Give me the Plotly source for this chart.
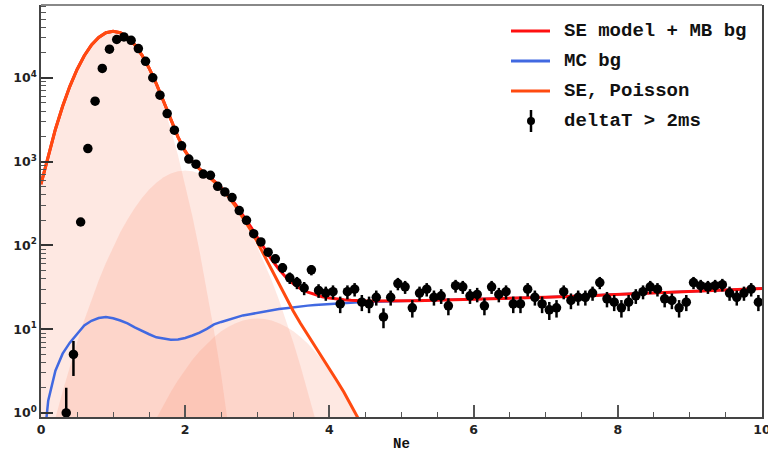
import numpy as np
import plotly.graph_objects as go

# ---------------- measured spectrum (deltaT > 2ms) ----------------
ne_bins = [round(0.35 + 0.1 * i, 2) for i in range(97)]
counts = [
    1, 5, 190, 1430, 5250, 12900, 21900, 28600, 30700, 28000,      # 0.35 - 1.25
    22300, 15700, 10000, 6200, 3740, 2370, 1540, 1070, 930, 710,   # 1.35 - 2.25
    686, 507, 434, 372, 260, 199, 138, 110, 83, 69,                # 2.35 - 3.25
    54, 41, 36, 31, 51, 29, 27, 28, 20, 28,                        # 3.35 - 4.25
    30, 21, 20, 24, 14, 24, 35, 32, 18, 27,                        # 4.35 - 5.25
    30, 24, 25, 19, 33, 32, 25, 26, 19, 32,                        # 5.35 - 6.25
    26, 28, 20, 20, 30, 24, 20, 17, 18, 28,                        # 6.35 - 7.25
    22, 24, 24, 27, 36, 23, 21, 18, 21, 25,                        # 7.35 - 8.25
    28, 32, 30, 23, 22, 18, 21, 36, 33, 32,                        # 8.35 - 9.25
    33, 34, 27, 24, 27, 30, 21,                                    # 9.35 - 9.95
]

# ---------------- model curves on a 0.1 grid ----------------
grid_x = [round(0.1 * i, 1) for i in range(101)]

# single-electron Poisson components (1e, 2e, 3e), starting at Ne = 0
se_1e = [536, 1190, 2430, 4570, 7890, 12530, 18280, 24530, 30270, 34360,
         35810, 34360, 30270, 24530, 18280, 12530, 7890, 4570, 2430, 1190,
         536, 222, 84.3, 29.5, 9.48, 2.81, 0.76, 0.19, 0.04]
se_2e = [0.18, 0.40, 0.87, 1.81, 3.61, 6.93, 12.8, 22.5, 38.0, 61.7,
         95.9, 143, 204, 280, 368, 463, 560, 649, 720, 767,
         783, 767, 720, 649, 560, 463, 368, 280, 204, 143,
         95.9, 61.7, 38.0, 22.5, 12.8, 6.93, 3.61, 1.81, 0.87, 0.40, 0.18]
se_3e = [0] * 13 + [0.23, 0.37, 0.57, 0.86, 1.26, 1.78, 2.46, 3.30, 4.31, 5.47,
                    6.75, 8.09, 9.44, 10.7, 11.8, 12.7, 13.2, 13.4, 13.2, 12.7,
                    11.8, 10.7, 9.44, 8.09, 6.75, 5.47, 4.31, 3.30, 2.46, 1.78,
                    1.26, 0.86, 0.57, 0.37, 0.23]

# MC background
mc_bg = [0.2, 1.4, 3.2, 5.1, 6.9, 8.8, 11.1, 12.6, 13.6, 14.0,
         13.5, 12.7, 11.7, 10.5, 9.5, 8.7, 8.0, 7.7, 7.5, 7.55,
         7.85, 8.4, 9.1, 10.1, 11.4, 12.2, 13.0, 13.8, 14.6, 15.1,
         15.7, 16.2, 16.8, 17.4, 17.8, 18.3, 18.7, 19.1, 19.4, 19.7,
         20.0, 20.3, 20.6, 20.8, 20.9, 21.1, 21.3, 21.4, 21.5, 21.6,
         21.7, 21.8, 21.9, 22.0, 22.0, 22.1, 22.2, 22.3, 22.4, 22.4,
         22.5, 22.6, 22.8, 22.9, 23.0, 23.2, 23.3, 23.5, 23.6, 23.8,
         24.0, 24.2, 24.3, 24.5, 24.7, 24.9, 25.1, 25.3, 25.5, 25.7,
         25.9, 26.1, 26.3, 26.5, 26.8, 27.0, 27.2, 27.5, 27.7, 28.0,
         28.2, 28.4, 28.7, 28.9, 29.2, 29.4, 29.6, 29.8, 30.0, 30.3, 30.5]

y_tick_vals = [1, 10, 100, 1000, 10000]
y_tick_text = ["10<sup>0</sup>", "10<sup>1</sup>", "10<sup>2</sup>",
               "10<sup>3</sup>", "10<sup>4</sup>"]
x_tick_vals = [0, 2, 4, 6, 8, 10]

legend_labels = ["SE model + MB bg", "MC bg", "SE, Poisson", "deltaT > 2ms"]

# ------------------------------------------------------------------
W, H = 768, 452
ML, MR, MT, MB = 41, 6, 5, 35


def px2x(px):
    return (px - ML) / (W - ML - MR)


def py2y(py):
    return (H - MB - py) / (H - MT - MB)


n = len(grid_x)
comps = [np.array(c + [0] * (n - len(c)), dtype=float) for c in (se_1e, se_2e, se_3e)]
x_arr = np.array(grid_x)
se_total = comps[0] + comps[1] + comps[2]
bg_arr = np.array(mc_bg)
se_plus_bg = se_total + bg_arr

RED, BLUE, ORANGE = "#ff1010", "#4169e1", "#ff4a10"
FILL = "rgba(248,140,108,0.2)"
fig = go.Figure()

for c in comps:
    m = c > 0
    fig.add_trace(go.Scatter(x=x_arr[m], y=c[m], mode="lines", line=dict(width=0),
                             fill="tozeroy", fillcolor=FILL, showlegend=False,
                             hoverinfo="skip"))

fig.add_trace(go.Scatter(x=x_arr, y=bg_arr, mode="lines", name=legend_labels[1],
                         line=dict(color=BLUE, width=2.5)))
fig.add_trace(go.Scatter(x=x_arr, y=se_plus_bg, mode="lines", name=legend_labels[0],
                         line=dict(color=RED, width=3)))
m = se_total > 0
fig.add_trace(go.Scatter(x=x_arr[m], y=se_total[m], mode="lines", name=legend_labels[2],
                         line=dict(color=ORANGE, width=3)))
fig.add_trace(go.Scatter(x=ne_bins, y=counts, mode="markers", name=legend_labels[3],
                         marker=dict(color="black", size=9.5),
                         error_y=dict(type="data", array=np.sqrt(counts), thickness=2.5,
                                      width=0, color="black")))

# legend box drawn by hand: line samples / marker glyph + labels
shapes = []
annotations = []
row_y = [31, 61, 91, 121]
for col, yy in zip([RED, BLUE, ORANGE], row_y[:3]):
    shapes.append(dict(type="line", xref="paper", yref="paper",
                       x0=px2x(511), x1=px2x(550), y0=py2y(yy), y1=py2y(yy),
                       line=dict(color=col, width=3)))
mx, my = 531, row_y[3]
shapes.append(dict(type="line", xref="paper", yref="paper",
                   x0=px2x(mx), x1=px2x(mx), y0=py2y(my - 11), y1=py2y(my + 11),
                   line=dict(color="black", width=2.5)))
shapes.append(dict(type="circle", xref="paper", yref="paper", fillcolor="black",
                   x0=px2x(mx - 4), x1=px2x(mx + 4), y0=py2y(my - 4), y1=py2y(my + 4),
                   line=dict(color="black", width=0)))
for label, yy in zip(legend_labels, row_y):
    annotations.append(dict(text=label, xref="paper", yref="paper", x=px2x(562),
                            y=py2y(yy), xanchor="left", yanchor="middle", showarrow=False,
                            font=dict(family="Liberation Mono", size=19, color="#111",
                                      weight="bold")))

# top frame line (lighter than the axes)
shapes.append(dict(type="line", xref="paper", yref="paper", x0=0, x1=1, y0=1, y1=1,
                   line=dict(color="#888", width=2)))

tick_font = dict(family="DejaVu Sans", size=12.5, color="#222", weight="bold")
fig.update_layout(
    width=W, height=H,
    margin=dict(l=ML, r=MR, t=MT, b=MB),
    paper_bgcolor="white", plot_bgcolor="white",
    showlegend=False,
    shapes=shapes, annotations=annotations,
    xaxis=dict(range=[0, 10], tickvals=x_tick_vals, ticks="inside", ticklen=12,
               tickwidth=1.5, tickcolor="#555", automargin=False,
               ticklabeloverflow="allow",
               minor=dict(dtick=0.5, ticks="inside", ticklen=5, tickcolor="#555", tickwidth=1),
               showgrid=False, zeroline=False, showline=True, linecolor="#444",
               linewidth=1.5, mirror=False, tickfont=tick_font,
               title=dict(text="Ne", font=dict(family="Liberation Mono", size=14,
                                               weight="bold", color="#111"), standoff=6)),
    yaxis=dict(type="log", range=[-0.048, 4.868], tickvals=y_tick_vals,
               ticktext=y_tick_text, ticks="inside", ticklen=12, tickwidth=1.5,
               tickcolor="#333", automargin=False,
               minor=dict(dtick="D1", ticks="inside", ticklen=5, tickcolor="#555", tickwidth=1),
               showgrid=False, zeroline=False, showline=True, linecolor="#444",
               linewidth=1.5, mirror=True, tickfont=tick_font),
)

fig.write_html("out.html")
